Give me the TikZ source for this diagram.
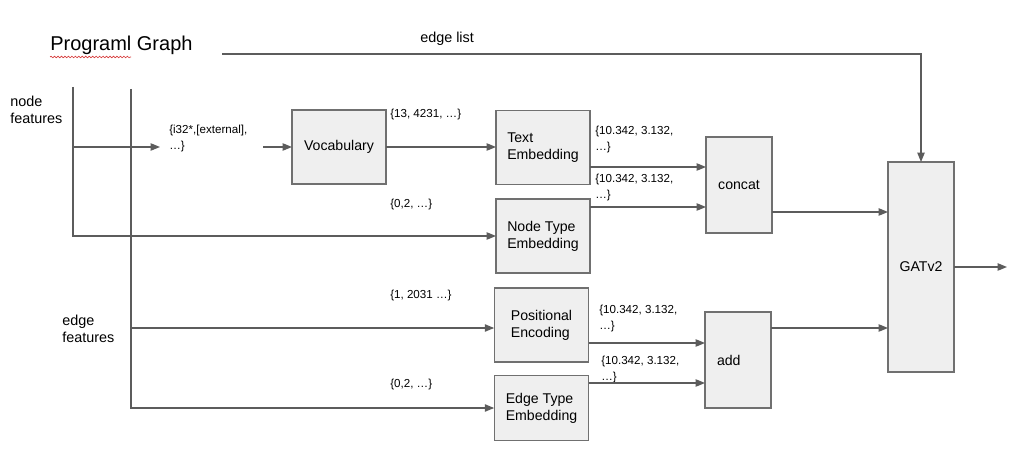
\documentclass[tikz,border=0pt]{standalone}
\usepackage{fontspec}
\setmainfont{Liberation Sans}
\usetikzlibrary{arrows.meta,decorations.pathmorphing}
\definecolor{BoxGray}{RGB}{239,239,239}
\definecolor{BoxLine}{RGB}{112,112,112}
\definecolor{LineGray}{RGB}{92,92,92}
\definecolor{SpellRed}{RGB}{214,60,60}

\begin{document}
\begin{tikzpicture}[x=0.75pt, y=-0.75pt,
  blk/.style={draw=BoxLine, fill=BoxGray, line width=0.8pt, outer sep=0pt, align=left, font=\fontsize{10.6}{12.75}\selectfont},
  lbl/.style={align=left, inner sep=0pt, font=\fontsize{10.8}{12.75}\selectfont},
  val/.style={align=left, inner sep=0pt, anchor=west, font=\fontsize{8.7}{12}\selectfont},
  wire/.style={draw=LineGray, line width=0.9pt},
  arr/.style={wire, -{Triangle[length=7pt,width=5.5pt]}}]
\useasboundingbox (0,0) rectangle (1019,459); % page 1019 x 459 px

% titles and inputs
\node[inner sep=0pt, anchor=base west, font=\fontsize{15}{18}\selectfont] (title) at (50,51) {Programl Graph};
\draw[SpellRed, line width=0.5pt, decorate, decoration={snake, amplitude=0.6pt, segment length=2.6pt}] (50,57) -- (131,57); % spell check mark
\node[lbl, anchor=base west] (edgelist) at (420,43) {edge list};
\node[lbl, anchor=north west] (nodefeat) at (10,96) {node\\features};
\node[lbl, anchor=north west] (edgefeat) at (62,315) {edge\\features};

% boxes
\node[blk, minimum width=70.5pt, minimum height=55.5pt] (vocab) at (339,147) {Vocabulary};
\node[blk, minimum width=70.5pt, minimum height=55pt] (textemb) at (543,147.5) {Text\\Embedding};
\node[blk, minimum width=70.5pt, minimum height=55.5pt] (ntemb) at (543,236) {Node Type\\Embedding};
\node[blk, minimum width=71pt, minimum height=55.5pt] (posenc) at (541.5,325) {Positional\\Encoding};
\node[blk, minimum width=71pt, minimum height=48.75pt] (etemb) at (541.5,408) {Edge Type\\Embedding};
\node[blk, minimum width=49.5pt, minimum height=72pt] (concat) at (739,185) {concat};
\node[blk, minimum width=49.5pt, minimum height=72pt, inner xsep=9pt, text width=31.5pt] (add) at (738,360) {add};
\node[blk, minimum width=49.5pt, minimum height=157.5pt] (gat) at (921,267) {GATv2};

% values
\node[val] (tokens) at (169,139) {\{i32*,[external],\\…\}};
\node[val] (ids) at (390,115) {\{13, 4231, …\}};
\node[val] (textvec) at (595,140) {\{10.342, 3.132,\\…\}};
\node[val] (ntvec) at (595,188) {\{10.342, 3.132,\\…\}};
\node[val] (ntids) at (390,205) {\{0,2, …\}};
\node[val] (posids) at (390,296) {\{1, 2031 …\}};
\node[val] (posvec) at (599,318) {\{10.342, 3.132,\\…\}};
\node[val] (etvec) at (601,369) {\{10.342, 3.132,\\…\}};
\node[val] (etids) at (390,384) {\{0,2, …\}};

% bus ends and line heights
\coordinate (nf) at (73,87);    % node features bus top
\coordinate (ef) at (131,89);   % edge features bus top
\coordinate (tin) at (160,147); % token arrow end
\coordinate (vin) at (263,147); % vocabulary arrow start
\coordinate (el) at (222,54);   % edge list start
\coordinate (out) at (1007,267); % output end
\coordinate (c1) at (0,167);
\coordinate (c2) at (0,207);
\coordinate (a1) at (0,343);
\coordinate (a2) at (0,383);
\coordinate (g1) at (0,212);
\coordinate (g2) at (0,328);

% connectors
\draw[arr] (nf) |- (ntemb.west);
\draw[arr] (nf |- tin) -- (tin);
\draw[arr] (vin) -- (vin -| vocab.west);
\draw[arr] (vocab.east) -- (vocab.east -| textemb.west);
\draw[arr] (ef) |- (etemb.west);
\draw[arr] (ef |- g2) -- (posenc.west |- g2);
\draw[arr] (textemb.east |- c1) -- (concat.west |- c1);
\draw[arr] (ntemb.east |- c2) -- (concat.west |- c2);
\draw[arr] (posenc.east |- a1) -- (add.west |- a1);
\draw[arr] (etemb.east |- a2) -- (add.west |- a2);
\draw[arr] (concat.east |- g1) -- (gat.west |- g1);
\draw[arr] (add.east |- g2) -- (gat.west |- g2);
\draw[arr] (el) -| (gat.north);
\draw[arr] (gat.east) -- (out);

\end{tikzpicture}
\end{document}
